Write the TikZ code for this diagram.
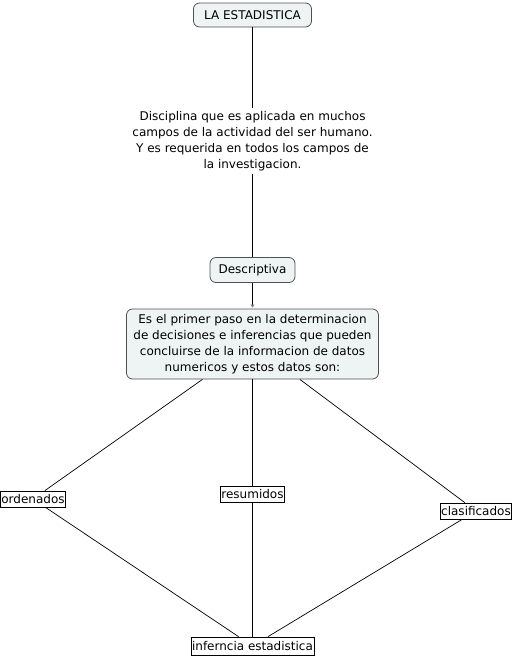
\documentclass[tikz,border=0pt]{standalone}
\usepackage{fontspec}
\setmainfont{DejaVu Sans}
\usetikzlibrary{arrows.meta}
\definecolor{boxfill}{HTML}{EEF3F4}
\definecolor{boxline}{HTML}{505050}
\begin{document}
\begin{tikzpicture}[x=1pt,y=-1pt,
  txt/.style={font=\fontsize{12}{16}\selectfont},
  concept/.style={txt, draw=boxline, fill=boxfill, rounded corners=6pt, line width=0.8pt, align=center, inner sep=2pt},
  tag/.style={txt, draw=black, fill=white, line width=0.7pt, inner sep=1pt, minimum height=16pt},
  phrase/.style={txt, align=center, inner sep=3pt},
  link/.style={draw=black, line width=0.7pt}]
\useasboundingbox (0,0) rectangle (514,657);
\node[concept, minimum width=118pt, minimum height=24pt] (top) at (252.5,15) {LA ESTADISTICA};
\node[phrase] (lab) at (252.5,141) {Disciplina que es aplicada en muchos\\campos de la actividad del ser humano.\\Y es requerida en todos los campos de\\la investigacion.};
\node[concept, minimum width=85pt, minimum height=25pt] (desc) at (252.5,270) {Descriptiva};
\node[concept, minimum width=252pt, minimum height=70pt] (big) at (252.5,344) {Es el primer paso en la determinacion\\de decisiones e inferencias que pueden\\concluirse de la informacion de datos\\numericos y estos datos son:};
\node[tag] (ord) at (33,499) {ordenados};
\node[tag] (res) at (252.5,494) {resumidos};
\node[tag] (cla) at (476,511) {clasificados};
\node[tag, minimum height=18pt] (inf) at (252.5,646) {inferncia estadistica};
\draw[link] (top) -- (lab);
\draw[link] (lab) -- (desc);
\draw[link, -{Triangle[length=3pt,width=4pt,color=gray]}, shorten >=1pt] (desc) -- (big);
\draw[link] (big) -- (ord);
\draw[link] (big) -- (res);
\draw[link] (big) -- (cla);
\draw[link] (ord) -- (inf);
\draw[link] (res) -- (inf);
\draw[link] (cla) -- (inf);
\end{tikzpicture}
\end{document}
